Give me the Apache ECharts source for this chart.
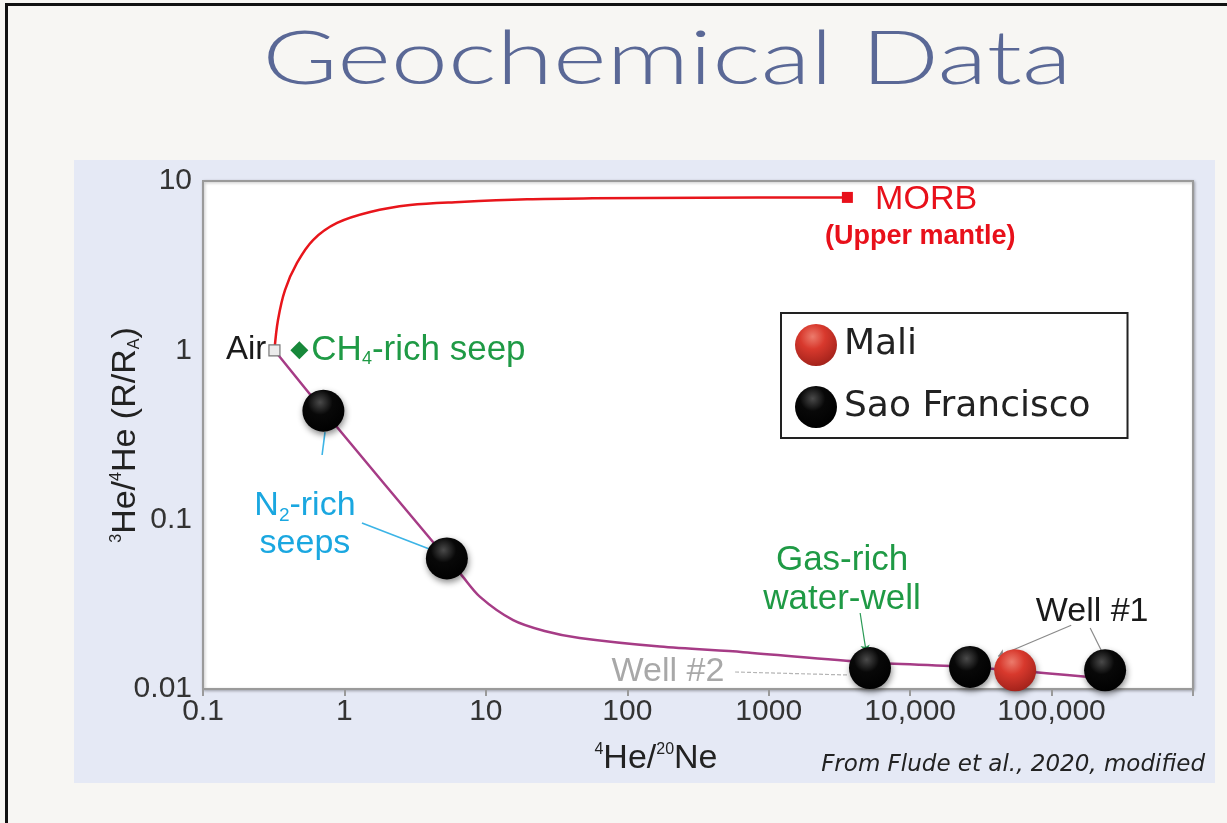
<!DOCTYPE html>
<html>
<head>
<meta charset="utf-8">
<title>Geochemical Data</title>
<script src="https://cdn.jsdelivr.net/npm/echarts@6/dist/echarts.min.js"></script>
<style>
  body { margin: 0; background: #f7f6f3; }
  #slide { position: relative; width: 1227px; height: 823px; overflow: hidden; background: #f7f6f3; }
  #frame { position: absolute; left: 5px; top: 3px; right: -10px; bottom: -10px; border-left: 3px solid #111; border-top: 3px solid #111; }
  #panel { position: absolute; left: 74px; top: 160px; width: 1141px; height: 623px; background: #e5e9f5; }
  #chart { position: absolute; left: 0; top: 0; width: 1227px; height: 823px; }
</style>
</head>
<body>
<div id="slide">
  <div id="frame"></div>
  <div id="panel"></div>
  <div id="chart"></div>
</div>
<script>
// tick labels
const xTickLabels = ['0.1', '1', '10', '100', '1000', '10,000', '100,000', ''];
const yTickLabels = ['0.01', '0.1', '1', '10'];

// mixing curves [4He/20Ne, 3He/4He (R/RA)]
const redCurve = [[0.32, 1.0], [0.339, 1.51], [0.38, 2.27], [0.462, 3.28], [0.6, 4.48], [0.887, 5.65],
  [1.52, 6.56], [2.91, 7.21], [6.57, 7.52], [19.6, 7.8], [57, 7.9], [330, 7.97], [3600, 8.0]];
const purpleCurve = [[0.32, 1.0], [0.71, 0.44], [5.3, 0.059], [6.6, 0.048], [9.1, 0.035], [15.6, 0.0255],
  [26, 0.022], [46, 0.02], [170, 0.0178], [660, 0.0165], [4900, 0.0144], [27400, 0.01345], [176000, 0.0118]];

// samples
const saoFrancisco = [[0.71, 0.44], [5.3, 0.059], [5200, 0.0133], [26500, 0.0135], [239000, 0.0129]];
const mali = [[55300, 0.0129]];
const airPoint = [[0.32, 1]];
const ch4Seep = [[0.48, 1]];
const morbPoint = [[3600, 8]];

// annotation texts: [x, y, text]
const noteN2 = [0.526, 0.093, 'N{sub|2}-rich\nseeps'];
const noteGas = [3300, 0.044, 'Gas-rich\nwater-well'];
const noteWell1 = [193600, 0.0288, 'Well #1'];
const noteWell2 = [194, 0.0126, 'Well #2'];
const noteMorb = [12970, 7.78, 'MORB'];
const noteMantle = [11780, 4.7, '(Upper mantle)'];

// leader lines
const n2Leaders = [[[0.695, 0.241], [0.729, 0.329]], [[1.33, 0.0955], [4.52, 0.0644]]];
const gasLeader = [[[4430, 0.0281], [4890, 0.0165]]];
const well1Arrow = [[[137700, 0.0238], [41900, 0.0156]]];
const well1Line = [[[187500, 0.0229], [228000, 0.0165]]];
const well2Leader = [[[578, 0.0126], [3640, 0.0121]]];

const FONT = '"Liberation Sans", Arial, sans-serif';

function ball(light, mid, dark) {
  return {
    type: 'radial', x: 0.42, y: 0.3, r: 0.75,
    colorStops: [
      { offset: 0, color: light },
      { offset: 0.4, color: mid },
      { offset: 1, color: dark }
    ]
  };
}

function note(n, color, size, weight) {
  return {
    type: 'scatter', symbolSize: 0, silent: true, z: 6,
    itemStyle: { opacity: 1 },
    data: [[n[0], n[1]]],
    label: {
      show: true, position: 'inside', formatter: n[2], color: color,
      fontFamily: FONT, fontSize: size, fontWeight: weight || 'normal', lineHeight: size + 4,
      align: 'center', verticalAlign: 'middle',
      rich: { sub: { fontSize: Math.round(size * 0.55), verticalAlign: 'bottom', color: color, fontFamily: FONT } }
    }
  };
}

function leader(coords, color, width, arrow, dashed) {
  return {
    type: 'lines', coordinateSystem: 'cartesian2d', silent: true, z: 3,
    symbol: arrow ? ['none', 'arrow'] : ['none', 'none'], symbolSize: 7,
    lineStyle: { color: color, width: width, type: dashed ? [4, 2] : 'solid', opacity: 1 },
    data: coords.map(c => ({ coords: c }))
  };
}

const chart = echarts.init(document.getElementById('chart'), null, { renderer: 'canvas' });

chart.setOption({
  backgroundColor: 'transparent',
  animation: false,
  graphic: [
    {
      type: 'text', x: 667, y: 60, scaleX: 1.37, originX: 0, originY: 0,
      style: { text: 'Geochemical Data', font: '300 75px Lato, sans-serif', fill: '#5a6896', textAlign: 'center', textVerticalAlign: 'middle' }
    },
    {
      type: 'text', x: 1205, y: 765,
      style: { text: 'From Flude et al., 2020, modified', font: 'italic 23px "DejaVu Sans", sans-serif', fill: '#222', textAlign: 'right', textVerticalAlign: 'middle' }
    }
  ],
  grid: {
    left: 203, top: 181, right: 34, bottom: 134,
    show: true, backgroundColor: '#ffffff', borderColor: '#9a9a9a', borderWidth: 2,
    shadowColor: 'rgba(0,0,0,0.25)', shadowBlur: 3, shadowOffsetX: 1, shadowOffsetY: 1
  },
  legend: {
    data: ['Mali', 'Sao Francisco'],
    orient: 'vertical', left: 781, top: 313,
    padding: [11, 37, 10, 14], itemGap: 20, itemWidth: 42, itemHeight: 42,
    icon: 'circle', selectedMode: false,
    backgroundColor: '#fff', borderColor: '#222', borderWidth: 2,
    textStyle: { fontFamily: '"DejaVu Sans", sans-serif', fontSize: 36, color: '#222', padding: [0, 0, 0, 2] }
  },
  xAxis: {
    type: 'log', logBase: 10, min: 0.1, max: 1000000,
    name: '{sup|4}He/{sup|20}Ne', nameLocation: 'middle', nameGap: 53, nameMoveOverlap: false,
    nameTextStyle: {
      fontFamily: FONT, fontSize: 34, color: '#222', padding: [0, 84, 0, 0],
      rich: { sup: { fontSize: 16, verticalAlign: 'top', lineHeight: 14, fontFamily: FONT, color: '#222' } }
    },
    axisLine: { show: true, lineStyle: { color: '#9a9a9a', width: 2 } },
    axisTick: { show: true, length: 7, lineStyle: { color: '#9a9a9a', width: 2 } },
    axisLabel: {
      fontFamily: FONT, fontSize: 30, color: '#333', margin: 8,
      formatter: v => xTickLabels[Math.round(Math.log10(v)) + 1]
    },
    splitLine: { show: false }
  },
  yAxis: {
    type: 'log', logBase: 10, min: 0.01, max: 10,
    name: '{sup|3}He/{sup|4}He (R/R{sub|A})', nameLocation: 'middle', nameRotate: 90, nameGap: 60,
    nameMoveOverlap: false,
    nameTextStyle: {
      fontFamily: FONT, fontSize: 34, color: '#222',
      rich: {
        sup: { fontSize: 16, verticalAlign: 'top', lineHeight: 14, fontFamily: FONT, color: '#222' },
        sub: { fontSize: 16, verticalAlign: 'bottom', lineHeight: 14, fontFamily: FONT, color: '#222' }
      }
    },
    axisLine: { show: true, lineStyle: { color: '#9a9a9a', width: 2 } },
    axisTick: { show: false },
    axisLabel: {
      fontFamily: FONT, fontSize: 30, color: '#333', margin: 11,
      formatter: v => yTickLabels[Math.round(Math.log10(v)) + 2]
    },
    splitLine: { show: false }
  },
  series: [
    {
      name: 'MORB mixing', type: 'line', data: redCurve, smooth: 0.35, symbol: 'none', z: 2,
      lineStyle: { color: '#e8151b', width: 2.5 }
    },
    {
      name: 'Crustal mixing', type: 'line', data: purpleCurve, smooth: 0.3, symbol: 'none', z: 2,
      lineStyle: { color: '#a63c86', width: 2.5 }
    },
    {
      name: 'Air', type: 'scatter', data: airPoint, symbol: 'rect', symbolSize: 11, z: 4,
      itemStyle: { color: '#ececec', borderColor: '#777', borderWidth: 1.2, opacity: 1 },
      label: { show: true, position: 'left', distance: 2, formatter: 'Air', fontFamily: FONT, fontSize: 33, color: '#1a1a1a' }
    },
    {
      name: 'CH4 seep', type: 'scatter', data: ch4Seep, symbol: 'diamond', symbolSize: 18, z: 4,
      itemStyle: { color: '#17883a', opacity: 1 },
      label: {
        show: true, position: 'right', distance: 3, formatter: 'CH{sub|4}-rich seep',
        fontFamily: FONT, fontSize: 35, color: '#1f9a45',
        rich: { sub: { fontSize: 18, verticalAlign: 'bottom', color: '#1f9a45', fontFamily: FONT } }
      }
    },
    {
      name: 'MORB', type: 'scatter', data: morbPoint, symbol: 'rect', symbolSize: 11, z: 4,
      itemStyle: { color: '#e8101a', opacity: 1 }
    },
    leader(n2Leaders, '#3cb4e6', 1.6, false, false),
    leader(gasLeader, '#2a9a55', 1.2, true, false),
    leader(well1Arrow, '#8a8a8a', 1.2, true, false),
    leader(well1Line, '#8a8a8a', 1.2, false, false),
    leader(well2Leader, '#b5b5b5', 1.2, false, true),
    {
      name: 'Sao Francisco', type: 'scatter', data: saoFrancisco, symbolSize: 42, z: 5,
      itemStyle: {
        color: ball('#4a4a4a', '#080808', '#000000'), opacity: 1,
        shadowColor: 'rgba(0,0,0,0.45)', shadowBlur: 6, shadowOffsetX: 1, shadowOffsetY: 3
      }
    },
    {
      name: 'Mali', type: 'scatter', data: mali, symbolSize: 42, z: 5,
      itemStyle: {
        color: ball('#ec7b6c', '#d8392d', '#9e2019'), opacity: 1,
        shadowColor: 'rgba(0,0,0,0.4)', shadowBlur: 6, shadowOffsetX: 1, shadowOffsetY: 3
      }
    },
    note(noteN2, '#1aa7e0', 34),
    note(noteGas, '#1f9a45', 35),
    note(noteWell1, '#1a1a1a', 34),
    note(noteWell2, '#a8a8a8', 34),
    note(noteMorb, '#e8101a', 34),
    note(noteMantle, '#e8101a', 27, 'bold')
  ]
});
</script>
</body>
</html>
